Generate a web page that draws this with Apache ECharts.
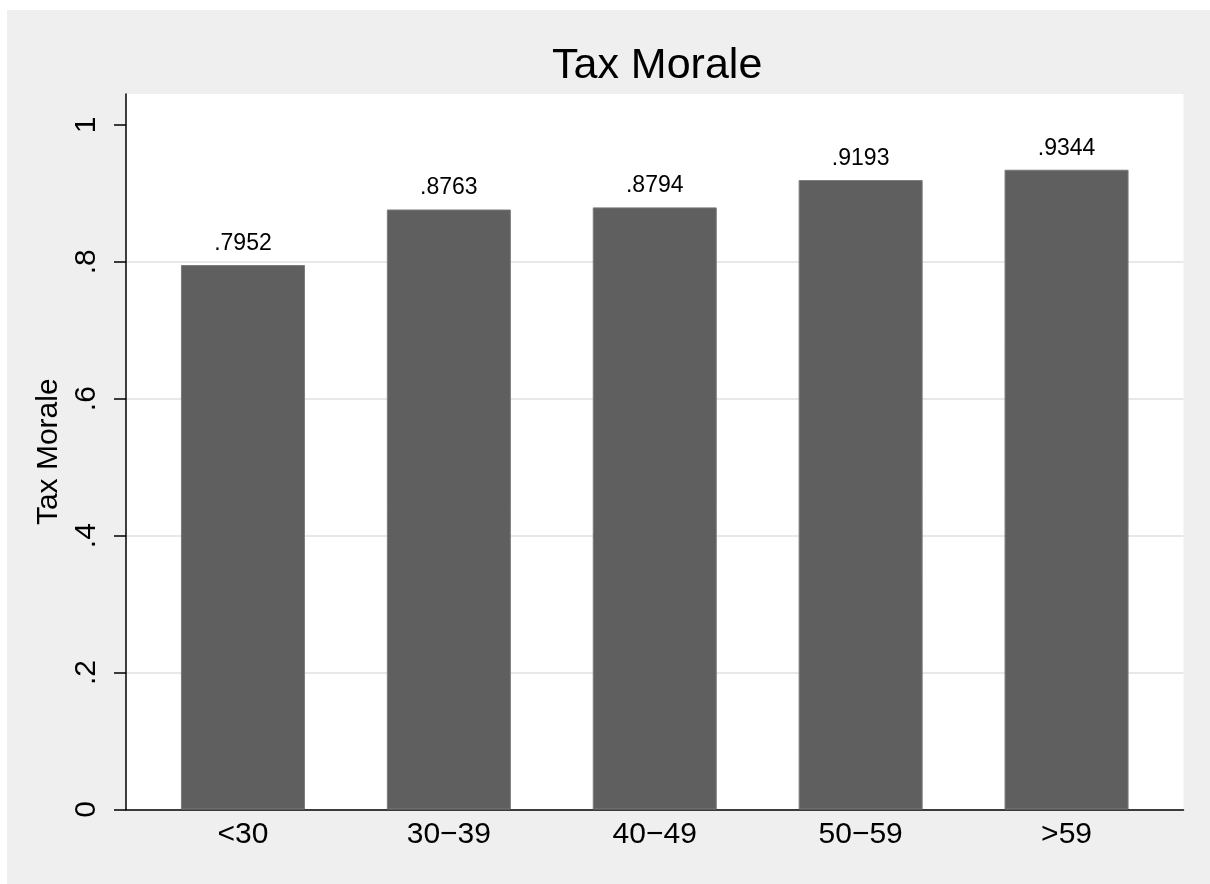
<!DOCTYPE html>
<html>
<head>
<meta charset="utf-8">
<script src="https://cdn.jsdelivr.net/npm/echarts@6/dist/echarts.min.js"></script>
<style>
html,body{margin:0;padding:0;background:#efefef;overflow:hidden;}
#chart{width:1210px;height:884px;}
</style>
</head>
<body>
<div id="chart"></div>
<script>
const categories = ['<30', '30\u221239', '40\u221249', '50\u221259', '>59'];
const values = [0.7952, 0.8763, 0.8794, 0.9193, 0.9344];
const yTicks = [0, 0.2, 0.4, 0.6, 0.8, 1];
const titleText = 'Tax Morale';
const yTitle = 'Tax Morale';

const FONT = '"Liberation Sans", Arial, sans-serif';
function fmt(v) {
  const s = (Math.round(v * 10000) / 10000).toString();
  return s.replace(/^0\./, '.');
}

const chart = echarts.init(document.getElementById('chart'), null, {renderer: 'canvas'});
chart.setOption({
  animation: false,
  backgroundColor: '#efefef',
  graphic: [
    {type: 'rect', z: -10, silent: true, shape: {x: 0, y: 0, width: 1210, height: 10}, style: {fill: '#ffffff'}},
    {type: 'rect', z: -10, silent: true, shape: {x: 0, y: 0, width: 7, height: 884}, style: {fill: '#ffffff'}}
  ],
  title: {
    text: titleText, left: 547, top: 40,
    textStyle: {fontFamily: FONT, fontSize: 43, fontWeight: 'normal', color: '#000'}
  },
  grid: [
    {left: 126, right: 26.5, top: 94, bottom: 74.5, show: true, backgroundColor: '#ffffff', borderWidth: 0},
    {left: 140, right: 40.5, top: 94, bottom: 74.5}
  ],
  xAxis: [
    {gridIndex: 0, type: 'category', data: categories,
     axisLine: {show: true, lineStyle: {color: '#000', width: 1.5}},
     axisTick: {show: false}, axisLabel: {show: false}, splitLine: {show: false}},
    {gridIndex: 1, type: 'category', data: categories,
     axisLine: {show: false}, axisTick: {show: false},
     axisLabel: {fontFamily: FONT, fontSize: 30, color: '#000', margin: 10}}
  ],
  yAxis: [
    {gridIndex: 0, type: 'value', min: 0, max: 1.045,
     name: yTitle, nameLocation: 'middle', nameGap: 50, nameRotate: 90,
     nameTextStyle: {fontFamily: FONT, fontSize: 30, color: '#000'},
     axisLine: {show: true, lineStyle: {color: '#000', width: 1.5}},
     axisTick: {show: true, length: 12, customValues: yTicks, lineStyle: {color: '#000', width: 1.5}},
     axisLabel: {customValues: yTicks, rotate: 90, margin: 24, fontFamily: FONT, fontSize: 30, color: '#000', formatter: fmt},
     splitLine: {show: true, showMinLine: false, showMaxLine: false, lineStyle: {color: '#e8e8e8', width: 2}}},
    {gridIndex: 1, type: 'value', min: 0, max: 1.045, show: false, splitLine: {show: false}}
  ],
  series: [{
    type: 'bar', xAxisIndex: 1, yAxisIndex: 1, data: values, barWidth: 124,
    itemStyle: {color: '#5f5f5f', borderColor: '#7a7a7a', borderWidth: 1},
    label: {show: true, position: 'top', distance: 10, fontFamily: FONT, fontSize: 23, color: '#000', formatter: p => fmt(p.value)}
  }]
});
</script>
</body>
</html>
